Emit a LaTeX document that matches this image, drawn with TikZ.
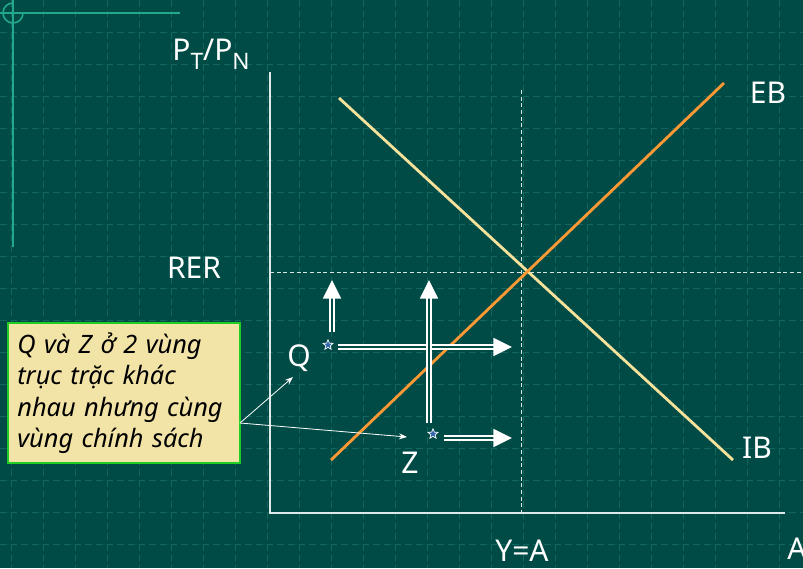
\documentclass[tikz,border=0pt]{standalone}
\usepackage{fontspec}
\setmainfont{Noto Sans}
\usetikzlibrary{arrows.meta,shapes.geometric}
\definecolor{board}{HTML}{004B46}
\definecolor{gridline}{HTML}{12665F}
\definecolor{trim}{HTML}{22A88A}
\definecolor{ebline}{HTML}{FF9933}
\definecolor{ibline}{HTML}{F7E29C}
\definecolor{note}{HTML}{F2E3A6}
\definecolor{notedge}{HTML}{22CC22}
\definecolor{starfill}{HTML}{3366AA}

\begin{document}
\begin{tikzpicture}[x=.75pt,y=-.75pt,font=\fontsize{22.5}{26}\selectfont,
  lbl/.style={text=white,inner sep=0pt},
  guide/.style={white!85!board,dash pattern=on 3pt off 2pt,line width=.7pt},
  curve/.style={line width=2.1pt},
  push/.style={white,line width=1.3pt,double=board,double distance=1.4pt,
               -{Triangle[length=14pt,width=13.5pt]}},
  spot/.style={star,star points=5,star point ratio=2.3,draw=white,fill=starfill,
               line width=.5pt,minimum size=8pt,inner sep=0pt},
  pointer/.style={white,line width=.6pt,-{Stealth[length=6pt,width=4.5pt]}}]
  \fill[board] (0,0) rectangle (803,568);
  \useasboundingbox (0,0) rectangle (803,568);
  \foreach \gx in {11,43,...,779}
    \draw[gridline,line width=.75pt,dash pattern=on 5pt off 3pt] (\gx,0) -- (\gx,568);
  \foreach \gy in {32,64,...,544}
    \draw[gridline,line width=.75pt,dash pattern=on 5pt off 3pt] (0,\gy) -- (803,\gy);
  \draw[trim,line width=1.2pt] (0,13) -- (180,13) (13,0) -- (13,247);
  \draw[trim,line width=1.2pt] (23,13) arc[start angle=0,end angle=270,radius=10];
  % axes and guides
  \coordinate (o) at (270,513);
  \coordinate (ytop) at (270,72);
  \coordinate (xend) at (785,513);
  \coordinate (rer0) at (270,272);
  \coordinate (rer1) at (803,272);
  \coordinate (ya0) at (521,90);
  \coordinate (ya1) at (521,513);
  \draw[white!88!board,line width=.8pt] (ytop) -- (o) -- (xend);
  \draw[guide] (rer0) -- (rer1);
  \draw[guide] (ya0) -- (ya1);
  % EB and IB
  \coordinate (eb0) at (331,460);
  \coordinate (eb1) at (724,83);
  \coordinate (ib0) at (339,98);
  \coordinate (ib1) at (733,460);
  \draw[curve,ibline] (ib0) -- (ib1);
  \draw[curve,ebline] (eb0) -- (eb1);
  % labels
  \node[lbl] (pt) at (211,54) {P\raisebox{-7pt}{\fontsize{17}{17}\selectfont T}/P\raisebox{-7pt}{\fontsize{17}{17}\selectfont N}};
  \node[lbl] (rer) at (194,268) {RER};
  \node[lbl] (eb) at (768,93) {EB};
  \node[lbl] (ib) at (757,448) {IB};
  \node[lbl] (q) at (299,358) {Q};
  \node[lbl] (z) at (410,463) {Z};
  \node[lbl,anchor=base] (ya) at (522,561) {Y=A};
  \node[lbl,anchor=base west] (a) at (787,559) {A};
  % Q and Z with their pushes
  \node[spot] (qs) at (328,345) {};
  \node[spot] (zs) at (433,434) {};
  \coordinate (qu0) at (332,332);
  \coordinate (qu1) at (332,280);
  \coordinate (qr0) at (338,347);
  \coordinate (qr1) at (512,347);
  \coordinate (zu0) at (429,423);
  \coordinate (zu1) at (429,280);
  \coordinate (zr0) at (444,438);
  \coordinate (zr1) at (512,438);
  \draw[push] (qu0) -- (qu1);
  \draw[push] (qr0) -- (qr1);
  \draw[push] (zu0) -- (zu1);
  \draw[push] (zr0) -- (zr1);
  % note
  \node[draw=notedge,fill=note,line width=.9pt,minimum width=174pt,minimum height=105pt,
        text width=160pt,align=left,inner sep=0pt,font=\fontsize{19}{23.5}\selectfont\itshape]
    (box) at (124,393) {Q và Z ở 2 vùng\\trục trặc khác\\nhau nhưng cùng\\vùng chính sách};
  \coordinate (tail) at (240,423);
  \coordinate (qtip) at (293,377);
  \coordinate (ztip) at (407,437);
  \draw[pointer] (tail) -- (qtip);
  \draw[pointer] (tail) -- (ztip);
\end{tikzpicture}
\end{document}
